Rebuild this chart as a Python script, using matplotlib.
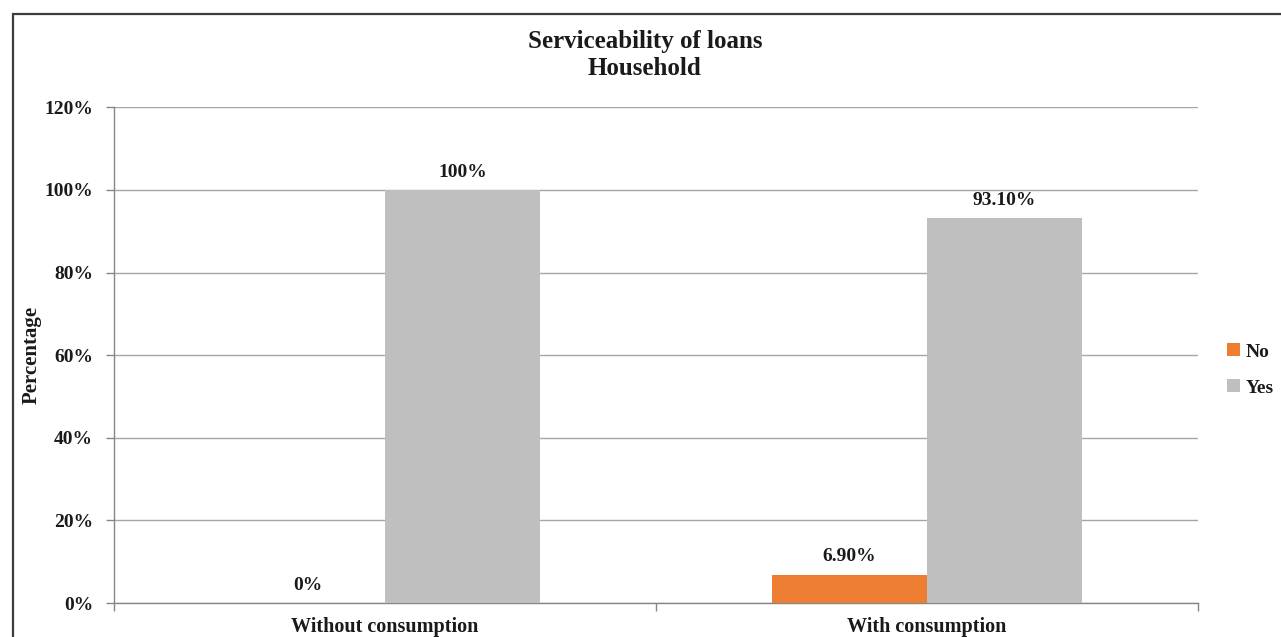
import matplotlib
matplotlib.use("Agg")
import matplotlib.pyplot as plt
from matplotlib.patches import Rectangle
from matplotlib.ticker import PercentFormatter
import numpy as np

# data
categories = ["Without consumption", "With consumption"]
no_values = [0.0, 0.069]
yes_values = [1.0, 0.931]
no_labels = ["0%", "6.90%"]
yes_labels = ["100%", "93.10%"]
series_names = ["No", "Yes"]
title_lines = ["Serviceability of loans", "Household"]

ORANGE = "#ED7D31"
GREY = "#BFBFBF"
GRID = "#A6A6A6"
AXIS = "#868686"
TEXT = "#1a1a1a"

plt.rcParams["font.family"] = ["Liberation Serif", "DejaVu Serif"]
plt.rcParams["font.weight"] = "bold"

W, H = 1281, 637
fig = plt.figure(figsize=(W / 100, H / 100), dpi=100)

# chart area border (only top/left edges visible in the reference)
fig.patches.append(Rectangle((13 / W, -0.2), 1.5, 1 - 14 / H + 0.2,
                             transform=fig.transFigure, fill=False,
                             edgecolor="#3c3c3c", linewidth=1.6))

left, right, top, bottom = 114, 1198, 107.4, 603
ax = fig.add_axes([left / W, 1 - bottom / H, (right - left) / W, (bottom - top) / H])

x = np.arange(len(categories))
bw = 1 / 3.5
bars_no = ax.bar(x - bw / 2, no_values, bw, color=ORANGE, label=series_names[0], zorder=3)
bars_yes = ax.bar(x + bw / 2, yes_values, bw, color=GREY, label=series_names[1], zorder=3)

for bars, labels in ((bars_no, no_labels), (bars_yes, yes_labels)):
    for bar, lab in zip(bars, labels):
        ax.annotate(lab, (bar.get_x() + bar.get_width() / 2, bar.get_height()),
                    xytext=(0, 9.5), textcoords="offset points", ha="center",
                    va="baseline", fontsize=14, fontweight="bold", color=TEXT)

ax.set_xlim(-0.5, len(categories) - 0.5)
ax.set_ylim(0, 1.2)
ax.set_yticks(np.arange(0, 1.21, 0.2))
ax.yaxis.set_major_formatter(PercentFormatter(1.0, decimals=0))
ax.grid(axis="y", color=GRID, linewidth=1, zorder=0)

# category boundaries as major ticks, names on minor ticks
ax.set_xticks(np.arange(-0.5, len(categories), 1.0))
ax.set_xticklabels([])
ax.set_xticks(x, minor=True)
ax.set_xticklabels(categories, minor=True)
ax.tick_params(axis="x", which="major", length=6, color=AXIS, width=1)
ax.tick_params(axis="x", which="minor", length=0, pad=10, labelsize=14.5, labelcolor=TEXT)
ax.tick_params(axis="y", length=6, color=AXIS, width=1, labelsize=14, pad=9, labelcolor=TEXT)
for t in ax.get_xticklabels(minor=True) + ax.get_yticklabels():
    t.set_fontweight("bold")

for s in ["top", "right"]:
    ax.spines[s].set_visible(False)
for s in ["left", "bottom"]:
    ax.spines[s].set_color(AXIS)
    ax.spines[s].set_linewidth(1)

fig.text(32 / W, 1 - 355 / H, "Percentage", rotation=90, ha="center", va="center",
         fontsize=15, fontweight="bold", color=TEXT)

for line, yb in zip(title_lines, (48, 75)):
    fig.text(645 / W, 1 - yb / H, line, ha="center", va="baseline",
             fontsize=18, fontweight="bold", color=TEXT)

leg = fig.legend(handles=[bars_no, bars_yes], labels=series_names,
                 loc="center left", bbox_to_anchor=(1227 / W, 1 - 370 / H), frameon=False,
                 handlelength=0.65, handleheight=0.65, handletextpad=0.3, borderpad=0,
                 borderaxespad=0, labelspacing=0.95, prop={"size": 14, "weight": "bold"})
for t in leg.get_texts():
    t.set_color(TEXT)

fig.savefig("out.png", dpi=100)
